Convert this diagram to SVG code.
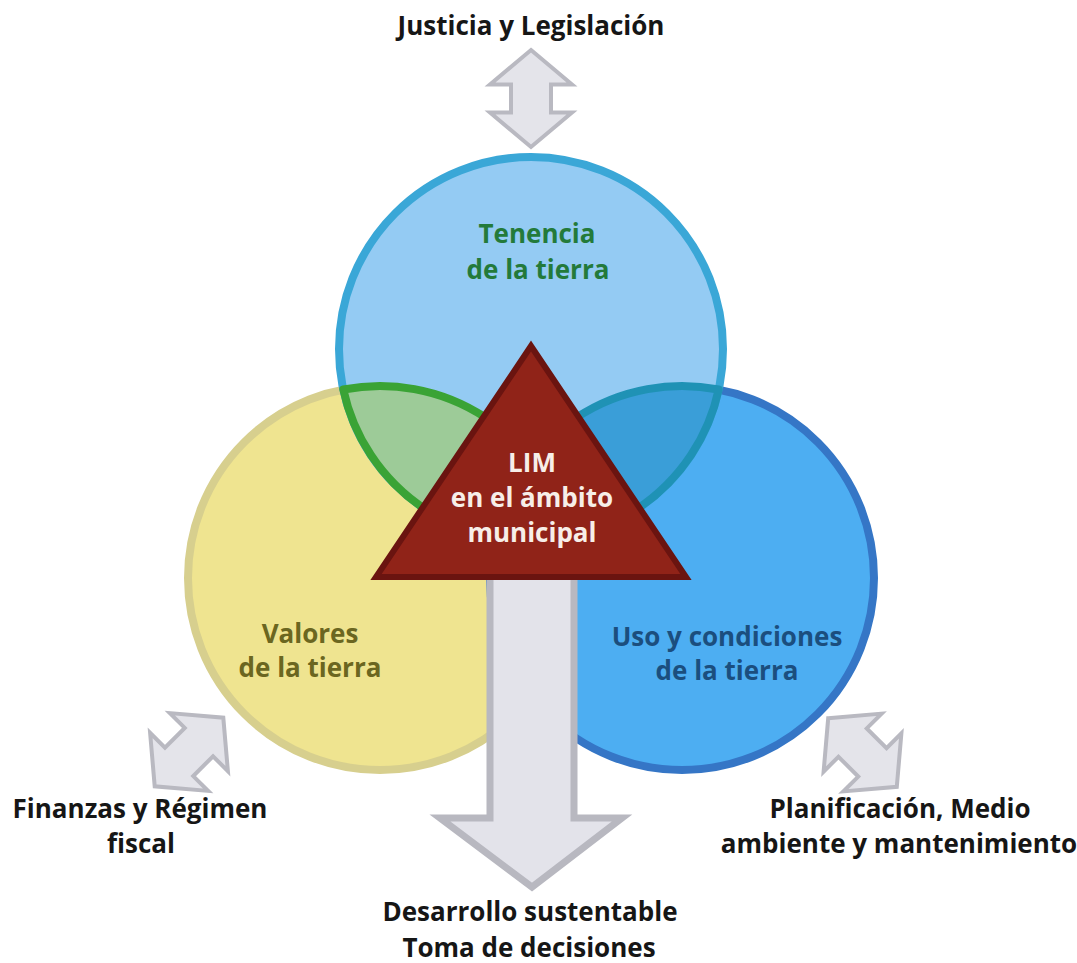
<svg xmlns="http://www.w3.org/2000/svg" width="1077" height="963" viewBox="0 0 1077 963">
  <style>
    .lbl { font-family: "Open Sans", "Noto Sans", "DejaVu Sans", sans-serif; font-weight: bold; font-size: 26px; text-anchor: middle; }
    .ext { fill: #161616; }
    .arr { fill: #E4E4EA; stroke: #B9B9C1; stroke-width: 4; stroke-linejoin: miter; }
  </style>
  <defs>
    <path id="dbl" d="M -48.5,0 L -14,-41 L -14,-20 L 14,-20 L 14,-41 L 48.5,0 L 14,41 L 14,20 L -14,20 L -14,41 Z"/>
  </defs>
  <rect width="1077" height="963" fill="#FFFFFF"/>

  <g id="circle-valores">
    <circle cx="380" cy="578" r="192" fill="#EFE490" stroke="#D7CF8E" stroke-width="8"/>
  </g>
  <g id="circle-uso">
    <circle cx="682" cy="578" r="192" fill="#4DAEF2" stroke="#3576C6" stroke-width="8"/>
  </g>
  <g id="circle-tenencia">
    <circle cx="531" cy="349" r="192" fill="#94CBF3" stroke="#3AA7D7" stroke-width="8"/>
  </g>
  <g id="lens-left">
    <path d="M343.3,389.5 A192,192 0 0 1 567.7,537.5 A192,192 0 0 1 343.3,389.5 Z" fill="#9DCB98" stroke="#3AA335" stroke-width="8" stroke-linejoin="round"/>
  </g>
  <g id="lens-right">
    <path d="M494.3,537.5 A192,192 0 0 1 718.7,389.5 A192,192 0 0 1 494.3,537.5 Z" fill="#3A9ED8" stroke="#1F92B5" stroke-width="8" stroke-linejoin="round"/>
  </g>

  <g id="connectors">
    <use href="#dbl" class="arr" transform="translate(531,98.5) rotate(90)"/>
    <use href="#dbl" class="arr" transform="translate(189,752) rotate(-45)"/>
    <use href="#dbl" class="arr" transform="translate(862.5,752.5) rotate(45)"/>
    <path d="M490,570 L574,570 L574,818 L622,818 L532,887 L440,818 L490,818 Z" fill="#E3E3EA" stroke="#B8B8C0" stroke-width="7" stroke-linejoin="miter"/>
  </g>

  <g id="node-lim">
    <polygon points="531,346 686,577 376,577" fill="#902318" stroke="#6A1410" stroke-width="6" stroke-linejoin="miter"/>
    <text class="lbl" x="532" y="472" fill="#F7EEE8">LIM</text>
    <text class="lbl" x="532" y="507" fill="#F7EEE8">en el ámbito</text>
    <text class="lbl" x="532" y="542" fill="#F7EEE8">municipal</text>
  </g>

  <g id="label-tenencia">
    <text class="lbl" x="537" y="243" fill="#237A3A">Tenencia</text>
    <text class="lbl" x="538" y="279" fill="#237A3A">de la tierra</text>
  </g>
  <g id="label-valores">
    <text class="lbl" x="310" y="643" fill="#6B6620">Valores</text>
    <text class="lbl" x="310" y="677" fill="#6B6620">de la tierra</text>
  </g>
  <g id="label-uso">
    <text class="lbl" x="727" y="646" fill="#1B4E7E">Uso y condiciones</text>
    <text class="lbl" x="727" y="680" fill="#1B4E7E">de la tierra</text>
  </g>

  <g id="node-justicia">
    <text class="lbl ext" x="531" y="35">Justicia y Legislación</text>
  </g>
  <g id="node-finanzas">
    <text class="lbl ext" x="140" y="818">Finanzas y Régimen</text>
    <text class="lbl ext" x="141" y="853">fiscal</text>
  </g>
  <g id="node-planificacion">
    <text class="lbl ext" x="900" y="818">Planificación, Medio</text>
    <text class="lbl ext" x="899" y="853">ambiente y mantenimiento</text>
  </g>
  <g id="node-desarrollo">
    <text class="lbl ext" x="530" y="921">Desarrollo sustentable</text>
    <text class="lbl ext" x="529" y="957">Toma de decisiones</text>
  </g>
</svg>
